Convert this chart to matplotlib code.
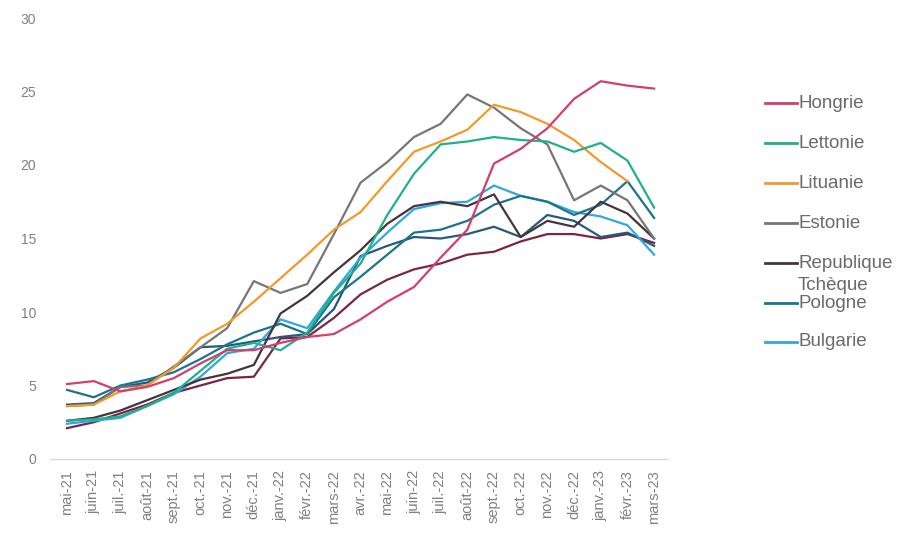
import numpy as np
import matplotlib
matplotlib.use("Agg")
import matplotlib.pyplot as plt
from matplotlib.lines import Line2D

plt.rcParams["font.family"] = ["Liberation Sans", "DejaVu Sans"]

months = ["mai-21", "juin-21", "juil.-21", "août-21", "sept.-21", "oct.-21",
          "nov.-21", "déc.-21", "janv.-22", "févr.-22", "mars-22", "avr.-22",
          "mai-22", "juin-22", "juil.-22", "août-22", "sept.-22", "oct.-22",
          "nov.-22", "déc.-22", "janv.-23", "févr.-23", "mars-23"]

hongrie = [5.1, 5.3, 4.6, 4.9, 5.5, 6.5, 7.4, 7.4, 7.9, 8.3, 8.5, 9.5,
           10.7, 11.7, 13.7, 15.6, 20.1, 21.1, 22.5, 24.5, 25.7, 25.4, 25.2]
lettonie = [2.6, 2.7, 2.9, 3.6, 4.5, 6.0, 7.5, 7.9, 7.4, 8.6, 11.3, 13.3,
            16.6, 19.4, 21.4, 21.6, 21.9, 21.7, 21.6, 20.9, 21.5, 20.3, 17.1]
lituanie = [3.6, 3.7, 4.6, 5.0, 6.2, 8.2, 9.2, 10.7, 12.3, 13.9, 15.6, 16.8,
            18.9, 20.9, 21.6, 22.4, 24.1, 23.6, 22.8, 21.7, 20.2, 18.9, np.nan]
estonie = [3.6, 3.7, 4.9, 5.0, 6.3, 7.6, 8.9, 12.1, 11.3, 11.9, 15.3, 18.8,
           20.2, 21.9, 22.8, 24.8, 23.9, 22.5, 21.4, 17.6, 18.6, 17.6, 15.0]
tcheque = [2.6, 2.8, 3.3, 4.0, 4.7, 5.4, 5.8, 6.4, 9.9, 11.1, 12.7, 14.2,
           16.0, 17.2, 17.5, 17.2, 18.0, 15.1, 16.2, 15.8, 17.5, 16.7, 15.0]
pologne = [4.7, 4.2, 5.0, 5.4, 5.9, 6.8, 7.8, 8.6, 9.2, 8.5, 11.0, 12.4,
           13.9, 15.4, 15.6, 16.2, 17.3, 17.9, 17.5, 16.6, 17.3, 18.9, 16.4]
bulgarie = [2.4, 2.6, 2.8, 3.6, 4.4, 5.6, 7.2, 7.5, 9.5, 8.9, 11.4, 13.7,
            15.4, 17.0, 17.4, 17.5, 18.6, 17.9, 17.5, 16.8, 16.5, 15.9, 13.9]
roumanie = [3.7, 3.8, 4.9, 5.2, 6.2, 7.6, 7.7, 8.0, 8.3, 8.5, 10.2, 13.8,
            14.5, 15.1, 15.0, 15.3, 15.8, 15.1, 16.6, 16.2, 15.1, 15.4, 14.5]
slovaquie = [2.1, 2.5, 3.1, 3.7, 4.5, 5.0, 5.5, 5.6, 8.2, 8.3, 9.6, 11.2,
             12.2, 12.9, 13.3, 13.9, 14.1, 14.8, 15.3, 15.3, 15.0, 15.3, 14.7]

# series drawn, in drawing order; the first seven appear in the legend
series = [
    ("Slovaquie", slovaquie, "#7c2444"),
    ("Roumanie", roumanie, "#25597e"),
    ("Bulgarie", bulgarie, "#2fa8de"),
    ("Pologne", pologne, "#1c7390"),
    ("Republique\nTchèque", tcheque, "#46343c"),
    ("Estonie", estonie, "#767676"),
    ("Lituanie", lituanie, "#f2992e"),
    ("Lettonie", lettonie, "#21b08c"),
    ("Hongrie", hongrie, "#d23f6f"),
]
legend_order = ["Hongrie", "Lettonie", "Lituanie", "Estonie",
                "Republique\nTchèque", "Pologne", "Bulgarie"]

W, H = 908, 535
fig = plt.figure(figsize=(W / 100, H / 100), dpi=100)
ax = fig.add_axes([50 / W, 1 - 459 / H, 618 / W, 441 / H])

x = np.arange(len(months))
colors = {}
for name, vals, col in series:
    ax.plot(x, vals, color=col, lw=1.6, solid_joinstyle="round")
    colors[name] = col

ax.set_xlim(-0.64, 22.52)
ax.set_ylim(0, 30)
ax.set_yticks([0, 5, 10, 15, 20, 25, 30])
ax.set_xticks(x)
ax.set_xticklabels(months, rotation=90)
ax.tick_params(axis="y", length=0, pad=10, labelsize=10, labelcolor="#808080")
ax.tick_params(axis="x", length=0, pad=8, labelsize=10.5, labelcolor="#808080")
for s in ("top", "right", "left"):
    ax.spines[s].set_visible(False)
ax.spines["bottom"].set_color("#d9d9d9")
ax.spines["bottom"].set_linewidth(1.0)

# legend
ys = [103, 143, 183, 223, 263, 303, 342]
txt_kw = dict(va="center", ha="left", fontsize=13.5, color="#6a6a6a")
for name, yp in zip(legend_order, ys):
    yf = 1 - yp / H
    fig.add_artist(Line2D([765 / W, 797 / W], [yf, yf], transform=fig.transFigure,
                          color=colors[name], lw=2.0))
    if "\n" in name:
        first, second = name.split("\n")
        fig.text(798 / W, yf, first, **txt_kw)
        fig.text(798 / W, 1 - (yp + 22) / H, second, **txt_kw)
    else:
        fig.text(798 / W, yf, name, **txt_kw)

fig.savefig("out.png", dpi=100)
